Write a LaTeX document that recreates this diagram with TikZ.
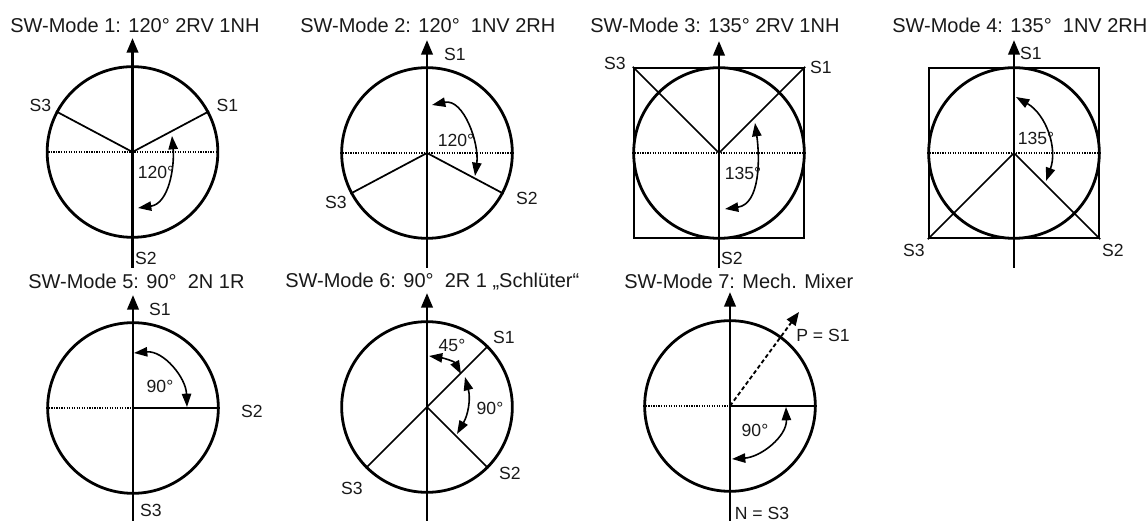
\documentclass[tikz,border=0pt]{standalone}
\usepackage{fontspec}
\setmainfont{Liberation Sans}
\usetikzlibrary{arrows.meta}
\definecolor{inkgray}{RGB}{25, 25, 25}
\tikzset{
	wheel/.style={circle, draw=black, line width=2.1pt, minimum size=128pt, inner sep=0pt},
	frame/.style={rectangle, draw=black, line width=1.3pt, minimum size=128pt, inner sep=0pt},
	axisline/.style={black, line width=2.1pt, -{Triangle[length=11pt, width=8.5pt]}},
	spoke/.style={black, line width=1.3pt},
	refline/.style={black, line width=0.9pt, densely dotted},
	anglearc/.style={black, line width=1.2pt, {Triangle[length=10pt, width=7pt]}-{Triangle[length=10pt, width=7pt]}},
	modetitle/.style={text=inkgray, font=\fontsize{15pt}{17pt}\selectfont, anchor=west, inner sep=0pt},
	lbl/.style={text=inkgray, font=\fontsize{13.2pt}{15pt}\selectfont, inner sep=0pt}
}
\begin{document}
\begin{tikzpicture}[x=0.75pt, y=0.75pt]
	\useasboundingbox (0,0) rectangle (1147,521);
	% Kreise und Achsen der Modi
	\foreach \i/\cx/\cy/\tip/\tail in {1/132.5/369/483/253, 2/427/368/481/253, 3/719/368/480/253, 4/1014/368/481/253, 5/133/113/226/0, 6/427/114/228/0, 7/730/115/229/0} {
		\node[wheel] (w\i) at (\cx,\cy) {};
		\coordinate (top\i) at (\cx,\tip);
		\coordinate (bot\i) at (\cx,\tail);
		\draw[axisline] (bot\i) -- (top\i);
	}
	\node[frame] (q3) at (719,368) {};
	\node[frame] (q4) at (1014,368) {};
	% Horizontale Referenz
	\foreach \i in {1,2,3,4} {
		\draw[refline] (w\i.west) -- (w\i.east);
	}
	\foreach \i in {5,7} {
		\draw[refline] (w\i.west) -- (w\i.center);
		\draw[spoke] (w\i.center) -- (w\i.east);
	}
	% Speichen
	\foreach \i/\a in {1/28, 1/152, 2/-28, 2/208, 6/45, 6/-45, 6/225} {
		\draw[spoke] (w\i.center) -- (w\i.\a);
	}
	\draw[spoke] (w3.center) -- (q3.north east);
	\draw[spoke] (w3.center) -- (q3.north west);
	\draw[spoke] (w4.center) -- (q4.south east);
	\draw[spoke] (w4.center) -- (q4.south west);
	\coordinate (p7) at (799,209);
	\draw[black, line width=1.4pt, densely dashed, -{Triangle[length=10pt, width=8pt]}] (w7.center) -- (p7);
	% Winkelpfeile
	\foreach \n/\ax/\ay/\bx/\by/\o/\e in {a1/172/385/138/313/-85/8, a2/432/416/475/345/12/82, a3/755/398/725/312/-82/8, a4/1016/424/1046/340/-30/70, a5/134/168/187/114/5/92, a6/429/165/461/147/-8/118, a7/465/144/457/87/-75/60, a8/786/114/732/62/-88/4} {
		\coordinate (\n s) at (\ax,\ay);
		\coordinate (\n e) at (\bx,\by);
		\draw[anglearc] (\n s) to[out=\o, in=\e] (\n e);
	}
	% Titel
	\node[modetitle] (t1) at (10,496) {SW-Mode 1: 120° 2RV 1NH};
	\node[modetitle] (t2) at (300,496) {SW-Mode 2: 120°\ \ 1NV 2RH};
	\node[modetitle] (t3) at (590,496) {SW-Mode 3: 135° 2RV 1NH};
	\node[modetitle] (t4) at (892,496) {SW-Mode 4: 135°\ \ 1NV 2RH};
	\node[modetitle] (t5) at (28,240) {SW-Mode 5: 90°\ \ 2N 1R};
	\node[modetitle] (t6) at (285,239) {SW-Mode 6: 90°\ \ 2R 1 „Schlüter“};
	\node[modetitle] (t7) at (624,240) {SW-Mode 7: Mech. Mixer};
	% Beschriftungen
	\foreach \n/\x/\y/\txt in {l1/40.5/416/S3, l2/227.5/416/S1, l3/156/349/120°, l4/146/263/S2,
		l5/455/467/S1, l6/456/381/120°, l7/336/319/S3, l8/527/323/S2,
		l9/615/458/S3, l10/821/453.5/S1, l11/743/348/135°, l12/732/263/S2,
		l13/1031/468/S1, l14/1036/382.5/135°, l15/914/271/S3, l16/1113/271/S2,
		l17/160/212/S1, l18/160/135/90°, l19/252/110/S2, l20/151/11/S3,
		l21/504/184/S1, l22/452/176/45°, l23/490/113/90°, l24/510/48/S2, l25/352/33/S3,
		l26/823/186/P = S1, l27/755/91/90°, l28/762/8/N = S3} {
		\node[lbl] (\n) at (\x,\y) {\txt};
	}
\end{tikzpicture}
\end{document}
